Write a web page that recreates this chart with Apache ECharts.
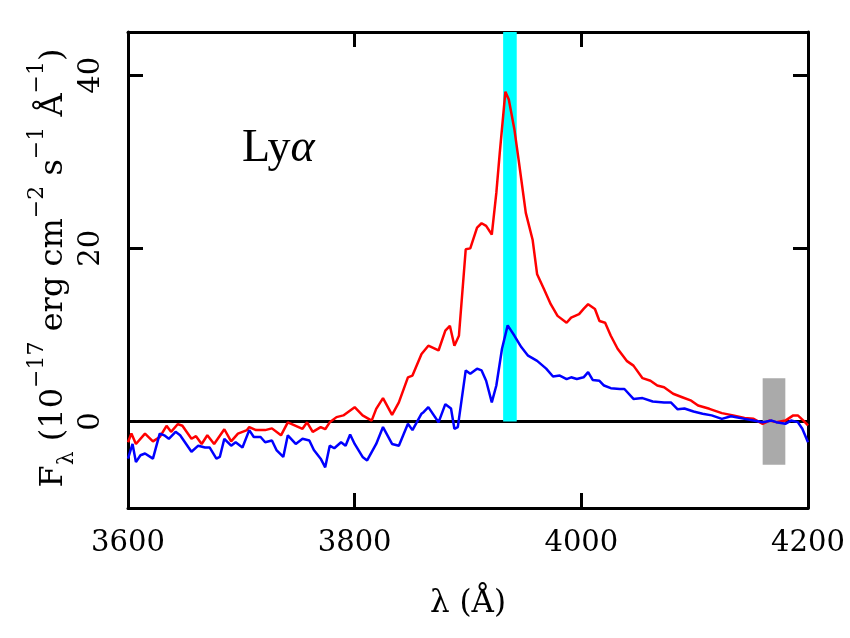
<!DOCTYPE html>
<html><head><meta charset="utf-8">
<script src="https://cdn.jsdelivr.net/npm/echarts@6/dist/echarts.min.js"></script>
<style>html,body{margin:0;padding:0;background:#fff}#c{width:850px;height:638px}</style>
</head><body><div id="c"></div>
<script>
const xTicks = [3600, 3800, 4000, 4200];
const yTicks = [0, 20, 40];
const lyaBand = [3931, 3943];
const grayBoxX = [4160, 4180];
const grayBoxY = [-5, 5];
const redSpectrum = [
 [3600,-2.4],[3603,-1.4],[3607,-2.6],[3615,-1.4],[3622,-2.3],[3628,-1.8],[3634,-0.5],[3638,-1.2],[3644,-0.3],[3648,-0.5],
 [3656,-2.0],[3660,-1.7],[3665,-2.6],[3670,-1.6],[3676,-2.6],[3685,-0.9],[3691,-2.3],[3697,-1.4],[3705,-1.0],[3707,-0.65],
 [3713,-1.0],[3721,-1.0],[3727,-0.8],[3735,-1.6],[3741,-0.1],[3748,-0.5],[3754,-0.85],[3758,-0.1],[3763,-1.2],[3770,-0.65],
 [3774,-0.9],[3778,-0.1],[3784,0.5],[3790,0.7],[3800,1.65],[3807,0.7],[3815,0.1],[3819,1.45],[3825,2.7],[3833,0.77],
 [3839,2.2],[3847,5.1],[3851,5.3],[3859,7.8],[3865,8.75],[3874,8.2],[3880,10.5],[3884,11.05],[3888,8.75],[3892,9.9],
 [3898,19.9],[3902,20.0],[3908,22.4],[3912,22.9],[3916,22.6],[3921,21.6],[3925,26.4],[3928,31.0],[3933,38.1],[3936,37.2],
 [3941,33.7],[3945,29.9],[3951,24.1],[3957,21.0],[3961,17.0],[3967,15.3],[3973,13.55],[3979,12.2],[3987,11.4],[3991,12.0],
 [3998,12.4],[4002,13.0],[4006,13.55],[4012,13.0],[4016,11.6],[4021,11.4],[4026,9.9],[4032,8.4],[4040,7.0],[4046,6.45],
 [4054,5.0],[4061,4.7],[4067,4.15],[4073,3.95],[4081,3.2],[4089,2.8],[4097,2.4],[4103,1.85],[4113,1.46],[4124,0.96],
 [4134,0.7],[4144,0.4],[4152,0.3],[4160,-0.27],[4166,0.1],[4172,-0.08],[4180,0.1],[4187,0.7],[4191,0.7],[4196,0.1],[4200,-0.46]
];
const blueSpectrum = [
 [3600,-4.3],[3604,-2.6],[3607,-4.7],[3611,-3.9],[3615,-3.7],[3622,-4.3],[3628,-1.4],[3632,-1.6],[3636,-2.0],[3642,-1.2],
 [3646,-1.6],[3656,-3.5],[3662,-2.8],[3668,-3.0],[3672,-3.0],[3678,-4.3],[3681,-4.1],[3685,-2.0],[3691,-2.8],[3695,-2.4],
 [3701,-3.0],[3707,-1.0],[3711,-1.8],[3717,-1.8],[3721,-2.4],[3727,-2.2],[3731,-3.3],[3737,-4.1],[3741,-1.6],[3748,-2.6],
 [3754,-2.0],[3760,-2.2],[3764,-3.3],[3770,-4.3],[3774,-5.3],[3778,-2.8],[3782,-3.1],[3788,-2.4],[3792,-2.8],[3796,-1.5],
 [3800,-2.6],[3807,-4.1],[3811,-4.5],[3819,-2.6],[3825,-0.65],[3833,-2.6],[3839,-2.8],[3847,-0.27],[3851,-1.0],[3859,0.9],
 [3861,1.1],[3865,1.65],[3874,-0.1],[3880,2.0],[3885,1.5],[3888,-0.85],[3891,-0.65],[3898,5.9],[3902,5.5],[3908,6.1],
 [3912,5.9],[3916,4.7],[3921,2.2],[3925,4.15],[3930,8.4],[3935,11.1],[3941,9.9],[3947,8.6],[3953,7.6],[3961,7.0],
 [3969,6.1],[3975,5.2],[3981,5.3],[3987,4.9],[3991,5.1],[3996,4.9],[4002,5.1],[4006,5.7],[4010,4.8],[4016,4.7],
 [4020,4.15],[4026,3.85],[4034,3.75],[4038,3.75],[4046,2.6],[4054,2.7],[4063,2.3],[4073,2.2],[4079,2.2],[4085,1.4],
 [4091,1.5],[4099,1.15],[4107,0.9],[4115,0.7],[4124,0.3],[4132,0.6],[4144,0.3],[4152,0.1],[4160,-0.08],[4168,0.1],
 [4172,-0.08],[4180,-0.27],[4185,0.1],[4191,-0.08],[4195,-0.85],[4200,-2.4]
];

const FONT = '"DejaVu Serif", serif';
const chart = echarts.init(document.getElementById('c'), null, {renderer: 'canvas'});
const line = {show: true, onZero: false, lineStyle: {color: '#000', width: 3}};
const tick = {show: true, inside: true, length: 15, lineStyle: {color: '#000', width: 3}};
const yTitle = '{n|F}{sub|λ}{n| (10}{sup|−17}{n| erg cm}{sup|−2}{n| s}{sup|−1}{n| Å}{sup|−1}{n|)}';

const option = {
  animation: false,
  backgroundColor: '#fff',
  grid: {left: 128, right: 42, top: 32, bottom: 130, containLabel: false},
  xAxis: [
    {type: 'value', position: 'bottom', min: 3600, max: 4200, interval: 200,
     axisLine: line, axisTick: tick, splitLine: {show: false},
     axisLabel: {show: true, customValues: xTicks, formatter: v => String(v),
                 fontFamily: FONT, fontSize: 29, color: '#000', margin: 21},
     name: 'λ (Å)', nameLocation: 'middle', nameGap: 80,
     nameTextStyle: {fontFamily: FONT, fontSize: 31, color: '#000'}},
    {type: 'value', position: 'top', min: 3600, max: 4200, interval: 200,
     axisLine: line, axisTick: tick, splitLine: {show: false}, axisLabel: {show: false}}
  ],
  yAxis: [
    {type: 'value', position: 'left', min: -10, max: 45,
     axisLine: line, axisTick: Object.assign({}, tick, {customValues: yTicks}), splitLine: {show: false},
     axisLabel: {show: true, customValues: yTicks, rotate: 90, fontFamily: FONT, fontSize: 29, color: '#000', margin: 22}},
    {type: 'value', position: 'right', min: -10, max: 45,
     axisLine: line, axisTick: Object.assign({}, tick, {customValues: yTicks}), splitLine: {show: false}, axisLabel: {show: false}}
  ],
  graphic: [
    {type: 'text', left: 242, top: 126, z: 100,
     style: {text: '{r|Ly}{i|α}', fill: '#000',
       rich: {r: {fontFamily: '"Liberation Serif", serif', fontSize: 46, fill: '#000'},
              i: {fontFamily: '"Liberation Serif", serif', fontSize: 46, fontStyle: 'italic', fill: '#000'}}}},
    {type: 'text', x: 48, y: 268, rotation: Math.PI / 2, z: 100,
     style: {text: yTitle, align: 'center', verticalAlign: 'middle', fill: '#000',
       rich: {
         n: {fontFamily: FONT, fontSize: 32, fill: '#000', lineHeight: 44, verticalAlign: 'bottom'},
         sup: {fontFamily: FONT, fontSize: 22, fill: '#000', lineHeight: 44, verticalAlign: 'top'},
         sub: {fontFamily: FONT, fontSize: 22, fill: '#000', lineHeight: 44, verticalAlign: 'bottom', padding: [0, 0, -8, 0]}
       }}}
  ],
  series: [
    {type: 'line', name: 'zero', data: [[3600, 0], [4200, 0]], symbol: 'none', z: 1,
     lineStyle: {color: '#000', width: 3}, silent: true},
    {type: 'line', name: 'bands', data: [], z: 2, silent: true,
     markArea: {silent: true, z: 2, data: [
       [{xAxis: lyaBand[0], yAxis: 0, itemStyle: {color: '#00ffff', opacity: 1}}, {xAxis: lyaBand[1], yAxis: 45}],
       [{xAxis: grayBoxX[0], yAxis: grayBoxY[0], itemStyle: {color: '#aaaaaa', opacity: 1}}, {xAxis: grayBoxX[1], yAxis: grayBoxY[1]}]
     ]}},
    {type: 'line', name: 'red', data: redSpectrum, symbol: 'none', z: 5, silent: true,
     lineStyle: {color: '#ff0000', width: 2.5}},
    {type: 'line', name: 'blue', data: blueSpectrum, symbol: 'none', z: 6, silent: true,
     lineStyle: {color: '#0000ff', width: 2.5}}
  ]
};
chart.setOption(option);
</script>
</body></html>
